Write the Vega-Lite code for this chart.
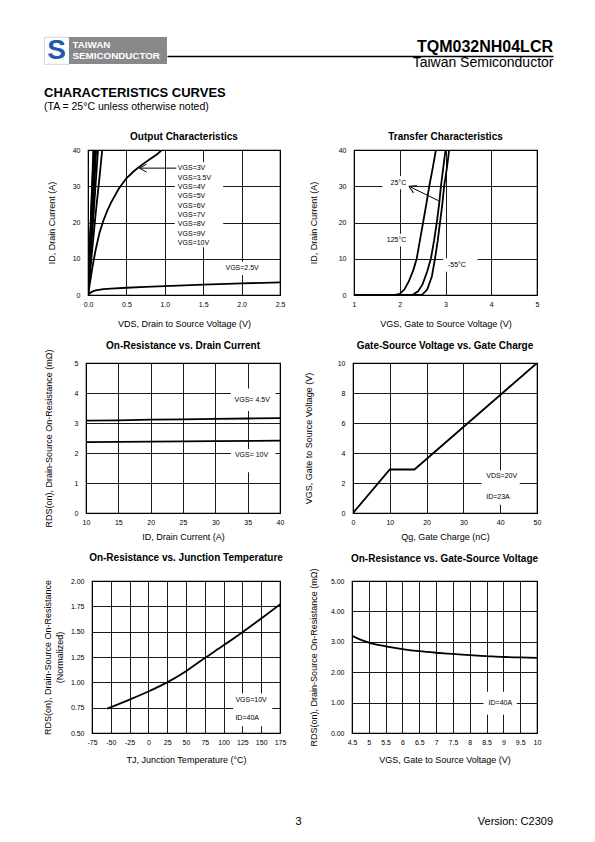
{
  "$schema": "https://vega.github.io/schema/vega-lite/v6.json",
  "autosize": {"type": "none"},
  "padding": {"left": 44, "top": 37, "right": 551, "bottom": 805},
  "background": "white",
  "bounds": "flush",
  "spacing": 0,
  "datasets": {"blank": [{"note": ""}]},
  "vconcat": [
    {
      "bounds": "flush",
      "spacing": 0,
      "hconcat": [
        {
          "width": 25, "height": 27,
          "view": {"fill": "white", "stroke": "#c8c8c8", "strokeWidth": 0.8},
          "title": {"text": "CHARACTERISTICS CURVES", "subtitle": "(TA = 25°C unless otherwise noted)", "orient": "bottom", "anchor": "start", "frame": "group", "offset": 22, "fontSize": 13, "fontWeight": "bold", "subtitleFontSize": 10.5, "subtitleColor": "black", "subtitlePadding": 2, "subtitleFont": "Liberation Sans"},
          "data": {"values": [{"logo": "S"}]},
          "mark": {"type": "text", "fontSize": 28, "fontWeight": "bold", "color": "#1d5ab0", "baseline": "middle", "align": "center"},
          "encoding": {"text": {"field": "logo"}}
        },
        {
          "width": 98, "height": 27,
          "view": {"fill": "#87898b", "stroke": null},
          "data": {"values": [{"line": "TAIWAN"}, {"line": "SEMICONDUCTOR"}]},
          "mark": {"type": "text", "align": "left", "baseline": "middle", "color": "white", "fontWeight": "bold", "fontSize": 9.8, "dx": 3.5},
          "encoding": {
            "text": {"field": "line"},
            "x": {"datum": 0, "type": "quantitative", "scale": {"domain": [0, 1]}, "axis": null},
            "y": {"field": "line", "type": "nominal", "sort": null, "scale": {"type": "point", "padding": 0.7}, "axis": null}
          }
        },
        {
          "width": 386, "height": 19,
          "data": {"values": [{"part": "TQM032NH04LCR"}]},
          "mark": {"type": "text", "align": "right", "baseline": "middle", "fontSize": 16, "fontWeight": "bold", "color": "black"},
          "encoding": {
            "text": {"field": "part"},
            "x": {"datum": 1, "type": "quantitative", "scale": {"domain": [0, 1]},
                  "axis": {"domain": true, "domainColor": "black", "domainWidth": 1.5, "labels": false, "ticks": false, "grid": false, "title": "Taiwan Semiconductor", "titleAnchor": "end", "titleFontSize": 14, "titleBaseline": "alphabetic", "titlePadding": 10}}
          }
        }
      ]
    },
    {"width": 1, "height": 113, "data": {"name": "blank"}, "mark": {"type": "point", "opacity": 0}},
    {
      "bounds": "flush",
      "spacing": 0,
      "hconcat": [
        {"width": 44, "height": 1, "data": {"name": "blank"}, "mark": {"type": "point", "opacity": 0}},
        {
          "width": 192, "height": 145,
          "view": {"stroke": "black", "strokeWidth": 1.2},
          "title": {"text": "Output Characteristics", "offset": 4},
          "layer": [
            {
              "data": {"values": [
                {"VGS": "2.5V", "VDS": 0, "ID": 0}, {"VGS": "2.5V", "VDS": 0.03, "ID": 0.6}, {"VGS": "2.5V", "VDS": 0.06, "ID": 1.0}, {"VGS": "2.5V", "VDS": 0.1, "ID": 1.3}, {"VGS": "2.5V", "VDS": 0.2, "ID": 1.6}, {"VGS": "2.5V", "VDS": 0.3, "ID": 1.75}, {"VGS": "2.5V", "VDS": 0.5, "ID": 2.0}, {"VGS": "2.5V", "VDS": 0.75, "ID": 2.25}, {"VGS": "2.5V", "VDS": 1.0, "ID": 2.45}, {"VGS": "2.5V", "VDS": 1.5, "ID": 2.85}, {"VGS": "2.5V", "VDS": 2.0, "ID": 3.2}, {"VGS": "2.5V", "VDS": 2.5, "ID": 3.5},
                {"VGS": "3V", "VDS": 0, "ID": 0}, {"VGS": "3V", "VDS": 0.03, "ID": 4}, {"VGS": "3V", "VDS": 0.06, "ID": 8}, {"VGS": "3V", "VDS": 0.1, "ID": 12.5}, {"VGS": "3V", "VDS": 0.15, "ID": 17.2}, {"VGS": "3V", "VDS": 0.2, "ID": 20.5}, {"VGS": "3V", "VDS": 0.25, "ID": 23.2}, {"VGS": "3V", "VDS": 0.3, "ID": 25.5}, {"VGS": "3V", "VDS": 0.4, "ID": 29.3}, {"VGS": "3V", "VDS": 0.5, "ID": 32.2}, {"VGS": "3V", "VDS": 0.6, "ID": 34.2}, {"VGS": "3V", "VDS": 0.7, "ID": 35.9}, {"VGS": "3V", "VDS": 0.8, "ID": 37.4}, {"VGS": "3V", "VDS": 0.9, "ID": 38.8}, {"VGS": "3V", "VDS": 0.96, "ID": 40},
                {"VGS": "3.5V", "VDS": 0, "ID": 0}, {"VGS": "3.5V", "VDS": 0.05, "ID": 11.5}, {"VGS": "3.5V", "VDS": 0.1, "ID": 22.5}, {"VGS": "3.5V", "VDS": 0.15, "ID": 32.5}, {"VGS": "3.5V", "VDS": 0.185, "ID": 40},
                {"VGS": "4V", "VDS": 0, "ID": 0}, {"VGS": "4V", "VDS": 0.13, "ID": 40},
                {"VGS": "5V", "VDS": 0, "ID": 0}, {"VGS": "5V", "VDS": 0.107, "ID": 40},
                {"VGS": "6V", "VDS": 0, "ID": 0}, {"VGS": "6V", "VDS": 0.095, "ID": 40},
                {"VGS": "7V", "VDS": 0, "ID": 0}, {"VGS": "7V", "VDS": 0.087, "ID": 40},
                {"VGS": "8V", "VDS": 0, "ID": 0}, {"VGS": "8V", "VDS": 0.08, "ID": 40},
                {"VGS": "9V", "VDS": 0, "ID": 0}, {"VGS": "9V", "VDS": 0.075, "ID": 40},
                {"VGS": "10V", "VDS": 0, "ID": 0}, {"VGS": "10V", "VDS": 0.07, "ID": 40}
              ]},
              "mark": {"type": "line", "color": "black", "strokeWidth": 1.8, "clip": true},
              "encoding": {
                "x": {"field": "VDS", "type": "quantitative", "scale": {"domain": [0, 2.5], "nice": false, "zero": false},
                      "axis": {"values": [0, 0.5, 1, 1.5, 2, 2.5], "tickCount": 40, "format": ".1f", "title": "VDS, Drain to Source Voltage (V)", "titlePadding": 12}},
                "y": {"field": "ID", "type": "quantitative", "scale": {"domain": [0, 40], "nice": false},
                      "axis": {"values": [0, 10, 20, 30, 40], "tickCount": 40, "format": "d", "title": "ID, Drain Current (A)", "titlePadding": 16}},
                "detail": {"field": "VGS", "type": "nominal"}
              }
            },
            {
              "data": {"values": [{"VDS": 1.13, "VDS2": 1.76, "ID": 13.2, "ID2": 36.6}, {"VDS": 1.74, "VDS2": 2.33, "ID": 5.5, "ID2": 9.2}]},
              "mark": {"type": "rect", "color": "white"},
              "encoding": {"x": {"field": "VDS", "type": "quantitative"}, "x2": {"field": "VDS2"}, "y": {"field": "ID", "type": "quantitative"}, "y2": {"field": "ID2"}}
            },
            {
              "data": {"values": [{"VDS": 0.67, "VDS2": 1.15, "ID": 35}]},
              "mark": {"type": "rule", "color": "black", "strokeWidth": 1},
              "encoding": {"x": {"field": "VDS", "type": "quantitative"}, "x2": {"field": "VDS2"}, "y": {"field": "ID", "type": "quantitative"}}
            },
            {
              "data": {"values": [{"VDS": 0.67, "ID": 35}]},
              "mark": {"type": "point", "shape": "M0,0L1.6,-0.9M0,0L1.6,0.9", "filled": false, "color": "black", "strokeWidth": 1, "size": 77, "opacity": 1},
              "encoding": {"x": {"field": "VDS", "type": "quantitative"}, "y": {"field": "ID", "type": "quantitative"}}
            },
            {
              "data": {"values": [
                {"VDS": 1.17, "ID": 34.9, "label": "VGS=3V"}, {"VDS": 1.17, "ID": 32.4, "label": "VGS=3.5V"}, {"VDS": 1.17, "ID": 29.8, "label": "VGS=4V"}, {"VDS": 1.17, "ID": 27.2, "label": "VGS=5V"}, {"VDS": 1.17, "ID": 24.6, "label": "VGS=6V"}, {"VDS": 1.17, "ID": 22.1, "label": "VGS=7V"}, {"VDS": 1.17, "ID": 19.5, "label": "VGS=8V"}, {"VDS": 1.17, "ID": 16.9, "label": "VGS=9V"}, {"VDS": 1.17, "ID": 14.3, "label": "VGS=10V"},
                {"VDS": 1.79, "ID": 7.4, "label": "VGS=2.5V"}
              ]},
              "mark": {"type": "text", "align": "left", "baseline": "middle", "fontSize": 7, "color": "black"},
              "encoding": {"x": {"field": "VDS", "type": "quantitative"}, "y": {"field": "ID", "type": "quantitative"}, "text": {"field": "label"}}
            }
          ]
        },
        {"width": 74, "height": 1, "data": {"name": "blank"}, "mark": {"type": "point", "opacity": 0}},
        {
          "width": 183, "height": 145,
          "view": {"stroke": "black", "strokeWidth": 1.2},
          "title": {"text": "Transfer Characteristics", "offset": 4},
          "layer": [
            {
              "data": {"values": [
                {"Temp": "125°C", "VGS": 1, "ID": 0}, {"Temp": "125°C", "VGS": 1.9, "ID": 0}, {"Temp": "125°C", "VGS": 2.0, "ID": 0.3}, {"Temp": "125°C", "VGS": 2.1, "ID": 1.5}, {"Temp": "125°C", "VGS": 2.2, "ID": 3.8}, {"Temp": "125°C", "VGS": 2.3, "ID": 7}, {"Temp": "125°C", "VGS": 2.37, "ID": 10}, {"Temp": "125°C", "VGS": 2.44, "ID": 15}, {"Temp": "125°C", "VGS": 2.51, "ID": 20}, {"Temp": "125°C", "VGS": 2.58, "ID": 25}, {"Temp": "125°C", "VGS": 2.645, "ID": 30}, {"Temp": "125°C", "VGS": 2.72, "ID": 35}, {"Temp": "125°C", "VGS": 2.79, "ID": 40},
                {"Temp": "25°C", "VGS": 1, "ID": 0}, {"Temp": "25°C", "VGS": 2.25, "ID": 0}, {"Temp": "25°C", "VGS": 2.3, "ID": 0.2}, {"Temp": "25°C", "VGS": 2.4, "ID": 1}, {"Temp": "25°C", "VGS": 2.5, "ID": 3}, {"Temp": "25°C", "VGS": 2.6, "ID": 6.5}, {"Temp": "25°C", "VGS": 2.68, "ID": 10}, {"Temp": "25°C", "VGS": 2.75, "ID": 15}, {"Temp": "25°C", "VGS": 2.81, "ID": 20}, {"Temp": "25°C", "VGS": 2.86, "ID": 25}, {"Temp": "25°C", "VGS": 2.9, "ID": 30}, {"Temp": "25°C", "VGS": 2.95, "ID": 35}, {"Temp": "25°C", "VGS": 3.0, "ID": 40},
                {"Temp": "-55°C", "VGS": 1, "ID": 0}, {"Temp": "-55°C", "VGS": 2.45, "ID": 0}, {"Temp": "-55°C", "VGS": 2.5, "ID": 0.2}, {"Temp": "-55°C", "VGS": 2.6, "ID": 1.5}, {"Temp": "-55°C", "VGS": 2.7, "ID": 5}, {"Temp": "-55°C", "VGS": 2.77, "ID": 10}, {"Temp": "-55°C", "VGS": 2.83, "ID": 15}, {"Temp": "-55°C", "VGS": 2.88, "ID": 20}, {"Temp": "-55°C", "VGS": 2.93, "ID": 25}, {"Temp": "-55°C", "VGS": 2.97, "ID": 30}, {"Temp": "-55°C", "VGS": 3.03, "ID": 35}, {"Temp": "-55°C", "VGS": 3.08, "ID": 40}
              ]},
              "mark": {"type": "line", "color": "black", "strokeWidth": 1.8, "clip": true},
              "encoding": {
                "x": {"field": "VGS", "type": "quantitative", "scale": {"domain": [1, 5], "nice": false, "zero": false},
                      "axis": {"values": [1, 2, 3, 4, 5], "tickCount": 40, "format": "d", "title": "VGS, Gate to Source Voltage (V)", "titlePadding": 12}},
                "y": {"field": "ID", "type": "quantitative", "scale": {"domain": [0, 40], "nice": false},
                      "axis": {"values": [0, 10, 20, 30, 40], "tickCount": 40, "format": "d", "title": "ID, Drain Current (A)", "titlePadding": 20}},
                "detail": {"field": "Temp", "type": "nominal"}
              }
            },
            {
              "data": {"values": [{"VGS": 1.62, "VGS2": 2.25, "ID": 29.2, "ID2": 32.8}, {"VGS": 1.63, "VGS2": 2.25, "ID": 13.4, "ID2": 16.9}, {"VGS": 2.95, "VGS2": 3.7, "ID": 6.4, "ID2": 10.15}]},
              "mark": {"type": "rect", "color": "white"},
              "encoding": {"x": {"field": "VGS", "type": "quantitative"}, "x2": {"field": "VGS2"}, "y": {"field": "ID", "type": "quantitative"}, "y2": {"field": "ID2"}}
            },
            {
              "data": {"values": [{"VGS": 2.2, "VGS2": 2.85, "ID": 30, "ID2": 26}]},
              "mark": {"type": "rule", "color": "black", "strokeWidth": 1},
              "encoding": {"x": {"field": "VGS", "type": "quantitative"}, "x2": {"field": "VGS2"}, "y": {"field": "ID", "type": "quantitative"}, "y2": {"field": "ID2"}}
            },
            {
              "data": {"values": [{"VGS": 2.2, "ID": 30}]},
              "mark": {"type": "point", "shape": "M0,0L1.6,-0.9M0,0L1.6,0.9", "filled": false, "color": "black", "strokeWidth": 1, "size": 77, "opacity": 1, "angle": 26},
              "encoding": {"x": {"field": "VGS", "type": "quantitative"}, "y": {"field": "ID", "type": "quantitative"}}
            },
            {
              "data": {"values": [{"VGS": 1.97, "ID": 31, "label": "25°C"}, {"VGS": 1.93, "ID": 15.2, "label": "125°C"}, {"VGS": 3.25, "ID": 8.2, "label": "-55°C"}]},
              "mark": {"type": "text", "align": "center", "baseline": "middle", "fontSize": 7, "color": "black"},
              "encoding": {"x": {"field": "VGS", "type": "quantitative"}, "y": {"field": "ID", "type": "quantitative"}, "text": {"field": "label"}}
            }
          ]
        }
      ]
    },
    {"width": 1, "height": 213, "data": {"name": "blank"}, "mark": {"type": "point", "opacity": 0}},
    {
      "bounds": "flush",
      "spacing": 0,
      "hconcat": [
        {"width": 42, "height": 1, "data": {"name": "blank"}, "mark": {"type": "point", "opacity": 0}},
        {
          "width": 194, "height": 150,
          "view": {"stroke": "black", "strokeWidth": 1.2},
          "title": {"text": "On-Resistance vs. Drain Current", "offset": -2},
          "layer": [
            {
              "data": {"values": [
                {"VGS": "4.5V", "ID": 10, "RDS": 3.08}, {"VGS": "4.5V", "ID": 15, "RDS": 3.09}, {"VGS": "4.5V", "ID": 20, "RDS": 3.11}, {"VGS": "4.5V", "ID": 25, "RDS": 3.12}, {"VGS": "4.5V", "ID": 30, "RDS": 3.135}, {"VGS": "4.5V", "ID": 35, "RDS": 3.15}, {"VGS": "4.5V", "ID": 40, "RDS": 3.16},
                {"VGS": "10V", "ID": 10, "RDS": 2.36}, {"VGS": "10V", "ID": 20, "RDS": 2.38}, {"VGS": "10V", "ID": 30, "RDS": 2.395}, {"VGS": "10V", "ID": 40, "RDS": 2.41}
              ]},
              "mark": {"type": "line", "color": "black", "strokeWidth": 1.8, "clip": true},
              "encoding": {
                "x": {"field": "ID", "type": "quantitative", "scale": {"domain": [10, 40], "nice": false, "zero": false},
                      "axis": {"values": [10, 15, 20, 25, 30, 35, 40], "tickCount": 40, "format": "d", "title": "ID, Drain Current (A)", "titlePadding": 7}},
                "y": {"field": "RDS", "type": "quantitative", "scale": {"domain": [0, 5], "nice": false},
                      "axis": {"values": [0, 1, 2, 3, 4, 5], "tickCount": 40, "format": "d", "title": "RDS(on), Drain-Source On-Resistance (mΩ)", "titlePadding": 21}},
                "detail": {"field": "VGS", "type": "nominal"}
              }
            },
            {
              "data": {"values": [{"ID": 32.4, "ID2": 39.3, "RDS": 3.4, "RDS2": 4.15}, {"ID": 32.4, "ID2": 39.3, "RDS": 1.36, "RDS2": 2.13}]},
              "mark": {"type": "rect", "color": "white"},
              "encoding": {"x": {"field": "ID", "type": "quantitative"}, "x2": {"field": "ID2"}, "y": {"field": "RDS", "type": "quantitative"}, "y2": {"field": "RDS2"}}
            },
            {
              "data": {"values": [{"ID": 35.7, "RDS": 3.76, "label": "VGS= 4.5V"}, {"ID": 35.6, "RDS": 1.94, "label": "VGS= 10V"}]},
              "mark": {"type": "text", "align": "center", "baseline": "middle", "fontSize": 7, "color": "black"},
              "encoding": {"x": {"field": "ID", "type": "quantitative"}, "y": {"field": "RDS", "type": "quantitative"}, "text": {"field": "label"}}
            }
          ]
        },
        {"width": 73, "height": 1, "data": {"name": "blank"}, "mark": {"type": "point", "opacity": 0}},
        {
          "width": 184, "height": 150,
          "view": {"stroke": "black", "strokeWidth": 1.2},
          "title": {"text": "Gate-Source Voltage vs. Gate Charge", "offset": 8},
          "layer": [
            {
              "data": {"values": [{"Qg": 0, "VGS": 0}, {"Qg": 10, "VGS": 2.9}, {"Qg": 16.7, "VGS": 2.9}, {"Qg": 50, "VGS": 10}]},
              "mark": {"type": "line", "color": "black", "strokeWidth": 1.8, "clip": true},
              "encoding": {
                "x": {"field": "Qg", "type": "quantitative", "scale": {"domain": [0, 50], "nice": false},
                      "axis": {"values": [0, 10, 20, 30, 40, 50], "tickCount": 40, "format": "d", "title": "Qg, Gate Charge (nC)", "titlePadding": 7}},
                "y": {"field": "VGS", "type": "quantitative", "scale": {"domain": [0, 10], "nice": false},
                      "axis": {"values": [0, 2, 4, 6, 8, 10], "tickCount": 40, "format": "d", "title": "VGS, Gate to Source Voltage (V)", "titlePadding": 24}}
              }
            },
            {
              "data": {"values": [{"Qg": 34.9, "Qg2": 45.3, "VGS": 0.55, "VGS2": 2.85}]},
              "mark": {"type": "rect", "color": "white"},
              "encoding": {"x": {"field": "Qg", "type": "quantitative"}, "x2": {"field": "Qg2"}, "y": {"field": "VGS", "type": "quantitative"}, "y2": {"field": "VGS2"}}
            },
            {
              "data": {"values": [{"Qg": 36.2, "VGS": 2.45, "label": "VDS=20V"}, {"Qg": 36.2, "VGS": 1.05, "label": "ID=23A"}]},
              "mark": {"type": "text", "align": "left", "baseline": "middle", "fontSize": 7, "color": "black"},
              "encoding": {"x": {"field": "Qg", "type": "quantitative"}, "y": {"field": "VGS", "type": "quantitative"}, "text": {"field": "label"}}
            }
          ]
        }
      ]
    },
    {"width": 1, "height": 218, "data": {"name": "blank"}, "mark": {"type": "point", "opacity": 0}},
    {
      "bounds": "flush",
      "spacing": 0,
      "hconcat": [
        {"width": 48, "height": 1, "data": {"name": "blank"}, "mark": {"type": "point", "opacity": 0}},
        {
          "width": 188, "height": 152,
          "view": {"stroke": "black", "strokeWidth": 1.2},
          "title": {"text": "On-Resistance vs. Junction Temperature", "offset": 14},
          "layer": [
            {
              "data": {"values": [
                {"TJ": -55, "RDSnorm": 0.74}, {"TJ": -25, "RDSnorm": 0.83}, {"TJ": 0, "RDSnorm": 0.91}, {"TJ": 25, "RDSnorm": 1.0}, {"TJ": 50, "RDSnorm": 1.11}, {"TJ": 75, "RDSnorm": 1.24}, {"TJ": 100, "RDSnorm": 1.365}, {"TJ": 125, "RDSnorm": 1.495}, {"TJ": 150, "RDSnorm": 1.63}, {"TJ": 175, "RDSnorm": 1.77}
              ]},
              "mark": {"type": "line", "color": "black", "strokeWidth": 1.8, "clip": true, "interpolate": "monotone"},
              "encoding": {
                "x": {"field": "TJ", "type": "quantitative", "scale": {"domain": [-75, 175], "nice": false, "zero": false},
                      "axis": {"values": [-75, -50, -25, 0, 25, 50, 75, 100, 125, 150, 175], "tickCount": 40, "format": "d", "title": "TJ, Junction Temperature (°C)", "titlePadding": 10}},
                "y": {"field": "RDSnorm", "type": "quantitative", "scale": {"domain": [0.5, 2], "nice": false, "zero": false},
                      "axis": {"values": [0.5, 0.75, 1, 1.25, 1.5, 1.75, 2], "tickCount": 40, "format": ".2f", "title": ["RDS(on), Drain-Source On-Resistance", "(Normalized)"], "titleLineHeight": 12, "titlePadding": 5.5}}
              }
            },
            {
              "data": {"values": [{"TJ": 112.6, "TJ2": 164.7, "RDSnorm": 0.566, "RDSnorm2": 0.89}]},
              "mark": {"type": "rect", "color": "white"},
              "encoding": {"x": {"field": "TJ", "type": "quantitative"}, "x2": {"field": "TJ2"}, "y": {"field": "RDSnorm", "type": "quantitative"}, "y2": {"field": "RDSnorm2"}}
            },
            {
              "data": {"values": [{"TJ": 115.7, "RDSnorm": 0.825, "label": "VGS=10V"}, {"TJ": 115.7, "RDSnorm": 0.648, "label": "ID=40A"}]},
              "mark": {"type": "text", "align": "left", "baseline": "middle", "fontSize": 7, "color": "black"},
              "encoding": {"x": {"field": "TJ", "type": "quantitative"}, "y": {"field": "RDSnorm", "type": "quantitative"}, "text": {"field": "label"}}
            }
          ]
        },
        {"width": 72, "height": 1, "data": {"name": "blank"}, "mark": {"type": "point", "opacity": 0}},
        {
          "width": 185, "height": 152,
          "view": {"stroke": "black", "strokeWidth": 1.2},
          "title": {"text": "On-Resistance vs. Gate-Source Voltage", "offset": 4.5},
          "layer": [
            {
              "data": {"values": [
                {"VGS": 4.5, "RDS": 3.2}, {"VGS": 4.75, "RDS": 3.07}, {"VGS": 5, "RDS": 2.97}, {"VGS": 5.5, "RDS": 2.85}, {"VGS": 6, "RDS": 2.76}, {"VGS": 6.5, "RDS": 2.69}, {"VGS": 7, "RDS": 2.64}, {"VGS": 7.5, "RDS": 2.6}, {"VGS": 8, "RDS": 2.56}, {"VGS": 8.5, "RDS": 2.53}, {"VGS": 9, "RDS": 2.5}, {"VGS": 9.5, "RDS": 2.485}, {"VGS": 10, "RDS": 2.47}
              ]},
              "mark": {"type": "line", "color": "black", "strokeWidth": 1.8, "clip": true, "interpolate": "monotone"},
              "encoding": {
                "x": {"field": "VGS", "type": "quantitative", "scale": {"domain": [4.5, 10], "nice": false, "zero": false},
                      "axis": {"values": [4.5, 5, 5.5, 6, 6.5, 7, 7.5, 8, 8.5, 9, 9.5, 10], "tickCount": 40, "format": "~g", "title": "VGS, Gate to Source Voltage (V)", "titlePadding": 10}},
                "y": {"field": "RDS", "type": "quantitative", "scale": {"domain": [0, 5], "nice": false},
                      "axis": {"values": [0, 1, 2, 3, 4, 5], "tickCount": 40, "format": ".2f", "title": "RDS(on), Drain-Source On-Resistance (mΩ)", "titlePadding": 12}}
              }
            },
            {
              "data": {"values": [{"VGS": 8.41, "VGS2": 9.4, "RDS": 0.6, "RDS2": 1.36}]},
              "mark": {"type": "rect", "color": "white"},
              "encoding": {"x": {"field": "VGS", "type": "quantitative"}, "x2": {"field": "VGS2"}, "y": {"field": "RDS", "type": "quantitative"}, "y2": {"field": "RDS2"}}
            },
            {
              "data": {"values": [{"VGS": 8.91, "RDS": 0.98, "label": "ID=40A"}]},
              "mark": {"type": "text", "align": "center", "baseline": "middle", "fontSize": 7, "color": "black"},
              "encoding": {"x": {"field": "VGS", "type": "quantitative"}, "y": {"field": "RDS", "type": "quantitative"}, "text": {"field": "label"}}
            }
          ]
        }
      ]
    },
    {"width": 1, "height": 220, "data": {"name": "blank"}, "mark": {"type": "point", "opacity": 0}},
    {
      "width": 509, "height": 42,
      "layer": [
        {
          "data": {"values": [{"page": "3"}]},
          "mark": {"type": "text", "fontSize": 11, "baseline": "middle", "align": "center", "color": "black"},
          "encoding": {"text": {"field": "page"}}
        },
        {
          "data": {"values": [{"version": "Version: C2309"}]},
          "mark": {"type": "text", "fontSize": 11, "baseline": "middle", "align": "right", "color": "black"},
          "encoding": {
            "text": {"field": "version"},
            "x": {"datum": 1, "type": "quantitative", "scale": {"domain": [0, 1]}, "axis": null}
          }
        }
      ]
    }
  ],
  "config": {
    "font": "Liberation Sans",
    "locale": {"number": {"decimal": ".", "thousands": ",", "grouping": [3], "currency": ["$", ""], "minus": "-"}},
    "view": {"stroke": null},
    "axis": {"grid": true, "gridColor": "black", "gridWidth": 0.9, "gridOpacity": 1, "domain": false, "ticks": false, "labelFontSize": 7, "labelColor": "black", "labelFlush": false, "labelOverlap": false, "titleFontSize": 9, "titleFontWeight": "normal", "titleColor": "black"},
    "axisX": {"labelPadding": 5},
    "axisY": {"labelPadding": 8},
    "title": {"fontSize": 10, "fontWeight": "bold", "color": "black", "anchor": "middle", "frame": "group"}
  }
}
